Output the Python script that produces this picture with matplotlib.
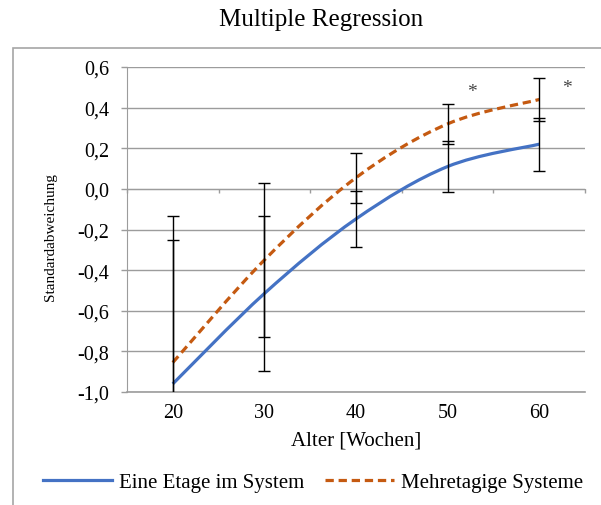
import numpy as np
import matplotlib
matplotlib.use("Agg")
import matplotlib.pyplot as plt
from matplotlib.path import Path
from matplotlib.patches import PathPatch, Rectangle
from matplotlib.lines import Line2D

plt.rcParams['font.family'] = ['Liberation Serif', 'DejaVu Serif']

# Alter in Wochen und Regressionswerte (Standardabweichung)
alter = [20, 30, 40, 50, 60]
eine_etage = [-0.96, -0.515, -0.148, 0.11, 0.22]
mehretagig = [-0.855, -0.35, 0.055, 0.32, 0.44]
fehler_eine = [0.71, 0.38, 0.139, 0.125, 0.13]
fehler_mehr = [0.72, 0.38, 0.124, 0.10, 0.105]

# Signifikanz-Sterne
stern_x = [52.7, 63.0]
stern_y = [0.48, 0.50]

labels = ['Eine Etage im System', 'Mehretagige Systeme']
farben = ['#4472C4', '#C55A11']
grau = '#9C9C9C'


def smooth_path(x, y, t=1/6):
    # Bezier-Kurve durch die Punkte (wie "geglättete Linie")
    p = np.column_stack([x, y]).astype(float)
    verts = [p[0]]
    codes = [Path.MOVETO]
    n = len(p)
    for i in range(n - 1):
        p0 = p[i - 1] if i > 0 else p[i]
        p3 = p[i + 2] if i + 2 < n else p[i + 1]
        c1 = p[i] + (p[i + 1] - p0) * t
        c2 = p[i + 1] - (p3 - p[i]) * t
        verts += [c1, c2, p[i + 1]]
        codes += [Path.CURVE4] * 3
    return Path(verts, codes)


fig = plt.figure(figsize=(6.01, 5.06), dpi=100)
ax = fig.add_axes([127/601, 1 - 393/506, 458/601, 325/506])

# Rahmen des Diagrammbereichs
fig.patches.append(Rectangle((13/601, -0.1), 1.2, 1.1 - 48.5/506, transform=fig.transFigure,
                             fill=False, edgecolor='#A6A6A6', lw=1.2))

ax.set_xlim(15, 65)
ax.set_ylim(-1.0, 0.6)
yticks = np.round(np.arange(-1.0, 0.61, 0.2), 1)
ax.set_yticks(yticks)
ax.set_yticklabels([f'{v:.1f}'.replace('.', ',').replace('-0,0', '0,0') for v in yticks])
ax.yaxis.grid(True, color=grau, lw=1)
ax.axhline(-1.0, color=grau, lw=1.2, clip_on=False, zorder=1)
ax.set_axisbelow(True)

for s in ['top', 'right']:
    ax.spines[s].set_visible(False)
ax.spines['left'].set_color(grau)
ax.spines['bottom'].set_color(grau)
ax.spines['bottom'].set_position(('data', 0))
ax.tick_params(axis='y', colors=grau, length=4, width=1, labelcolor='black', labelsize=14.5, pad=9)
ax.set_xticks(np.arange(15, 66, 10))
ax.tick_params(axis='x', colors=grau, length=3, width=1, labelbottom=False)

# Beschriftung der x-Achse unten
sec = ax.secondary_xaxis(0)
sec.set_xticks(alter)
sec.tick_params(length=0, labelsize=14.5, pad=8)
sec.spines['bottom'].set_visible(False)
sec.set_xlabel('Alter [Wochen]', fontsize=15, labelpad=6)

for yv, col, ls in [(eine_etage, farben[0], '-'), (mehretagig, farben[1], (0, (2.6, 1.5)))]:
    ax.add_patch(PathPatch(smooth_path(alter, yv), fill=False, edgecolor=col, lw=2.3,
                           linestyle=ls, capstyle='butt', zorder=3))

ax.errorbar(alter, mehretagig, yerr=fehler_mehr, fmt='none', ecolor='black', elinewidth=1,
            capsize=4.5, capthick=1, zorder=4)
ax.errorbar(alter, eine_etage, yerr=fehler_eine, fmt='none', ecolor='black', elinewidth=1,
            capsize=4.5, capthick=1, zorder=4)

for sx, sy in zip(stern_x, stern_y):
    ax.text(sx, sy, '*', fontsize=14, ha='center', va='center', color='#444444')

fig.text(0.535, 0.96, 'Multiple Regression', fontsize=18, ha='center', va='center')
fig.text(50/601, 1 - 237/506, 'Standardabweichung', fontsize=11, rotation=90,
         ha='center', va='center')

handles = [Line2D([], [], color=farben[0], lw=2.3),
           Line2D([], [], color=farben[1], lw=2.3, linestyle=(0, (2.6, 1.5)))]
fig.legend(handles, labels, loc='center', bbox_to_anchor=(0.521, 1 - 483/506), ncol=2,
           frameon=False, fontsize=15, handlelength=3.3, handletextpad=0.35,
           columnspacing=1.0, borderaxespad=0)

fig.savefig('out.png', dpi=100)
